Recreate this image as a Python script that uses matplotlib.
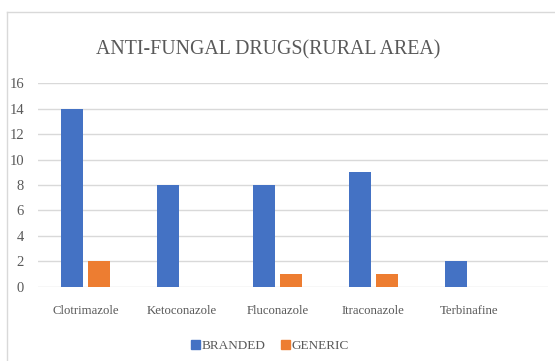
import matplotlib
matplotlib.use("Agg")
import matplotlib.pyplot as plt
from matplotlib.lines import Line2D
from matplotlib.patches import Patch
import numpy as np

categories = ["Clotrimazole", "Ketoconazole", "Fluconazole", "Itraconazole", "Terbinafine"]
branded = [14, 8, 8, 9, 2]
generic = [2, 0, 1, 1, 0]
series_names = ["BRANDED", "GENERIC"]
yticks = [0, 2, 4, 6, 8, 10, 12, 14, 16]
title = "ANTI-FUNGAL DRUGS(RURAL AREA)"

BLUE = "#4472C4"
ORANGE = "#ED7D31"
TEXT = "#595959"
GRID = "#D9D9D9"
FONT = "Liberation Serif"

W, H = 555, 361
fig = plt.figure(figsize=(W / 100, H / 100), dpi=100)

# chart frame (top and left edges)
fig.add_artist(Line2D([7 / W, 7 / W], [0, 1 - 12 / H], color=GRID, lw=1.0, transform=fig.transFigure))
fig.add_artist(Line2D([7 / W, 1], [1 - 12 / H, 1 - 12 / H], color=GRID, lw=1.0, transform=fig.transFigure))

ax = fig.add_axes([38 / W, 1 - 286.7 / H, (548 - 38) / W, (286.7 - 83.3) / H])
x = np.arange(len(categories))
bw = 0.229
off = 0.14
ax.bar(x - off, branded, bw, color=BLUE, zorder=3)
ax.bar(x + off, generic, bw, color=ORANGE, zorder=3)

ax.set_xlim(-0.495, 4.82)
ax.set_ylim(0, 16)
ax.set_yticks(yticks)
ax.set_yticklabels([str(t) for t in yticks], fontfamily=FONT, fontsize=10.5, color=TEXT)
ax.set_xticks(x)
ax.set_xticklabels(categories, fontfamily=FONT, fontsize=9.2, color=TEXT)
ax.tick_params(axis="both", length=0)
ax.tick_params(axis="y", pad=10)
ax.tick_params(axis="x", pad=13)
ax.grid(axis="y", color=GRID, lw=1.0, zorder=0)
for s in ax.spines.values():
    s.set_visible(False)

fig.text(268 / W, 1 - 50 / H, title, ha="center", va="center",
         fontfamily=FONT, fontsize=14.3, color=TEXT)

handles = [Patch(color=BLUE), Patch(color=ORANGE)]
fig.legend(handles, series_names, loc="center", bbox_to_anchor=(270 / W, 1 - 346 / H),
           ncol=2, frameon=False, prop={"family": FONT, "size": 9.5},
           labelcolor=TEXT, handlelength=0.7, handleheight=0.7,
           handletextpad=0.1, columnspacing=1.2)

fig.savefig("out.png", dpi=100)
